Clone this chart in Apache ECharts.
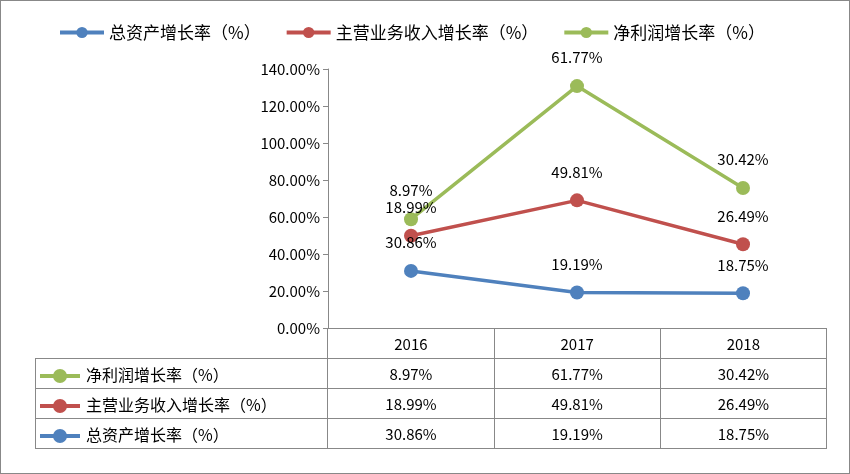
<!DOCTYPE html>
<html><head><meta charset="utf-8">
<script src="https://cdn.jsdelivr.net/npm/echarts@6/dist/echarts.min.js"></script>
<style>
body{margin:0;font-family:"Noto Sans CJK SC","Liberation Sans",sans-serif;}
#wrap{position:relative;width:848px;height:472px;border:1px solid #888;background:#fff;}
#chart{position:absolute;left:0;top:0;width:848px;height:472px;}
table{position:absolute;left:34px;top:327px;border-collapse:collapse;font-size:15px;color:#000;table-layout:fixed;width:792px;}
td{border:1px solid #888;height:29px;padding:0;text-align:center;width:166px;}
td.n{width:292px;text-align:left;padding-left:4px;font-size:16px;}
.sym{display:inline-block;position:relative;width:40px;height:14px;vertical-align:middle;margin-right:6px;}
.sym:before{content:"";position:absolute;left:0;right:0;top:5px;height:4px;background:var(--c);}
.sym:after{content:"";position:absolute;left:13px;top:0;width:14px;height:14px;border-radius:7px;background:var(--c);}
</style></head>
<body><div id="wrap"><div id="chart"></div><table id="tbl"></table></div>
<script>
// 数据
var years = ['2016', '2017', '2018'];
var names = ['总资产增长率（%）', '主营业务收入增长率（%）', '净利润增长率（%）'];
var colors = ['#4F81BD', '#C0504D', '#9BBB59'];
var asset = [30.86, 19.19, 18.75];
var revenue = [18.99, 49.81, 26.49];
var profit = [8.97, 61.77, 30.42];
var values = [asset, revenue, profit];

// 表格
var html = '<colgroup><col style="width:292px"><col style="width:166px"><col style="width:166px"><col style="width:166px"></colgroup>';
html += '<tr><td class="n" style="border-top:none;border-left:none"></td>';
for (var i = 0; i < years.length; i++) html += '<td>' + years[i] + '</td>';
html += '</tr>';
for (var k = 2; k >= 0; k--) {
     html += '<tr><td class="n"><span class="sym" style="--c:' + colors[k] + '"></span>' + names[k] + '</td>';
     for (var j = 0; j < years.length; j++) html += '<td>' + values[k][j].toFixed(2) + '%</td>';
     html += '</tr>';
}
document.getElementById('tbl').innerHTML = html;

var chart = echarts.init(document.getElementById('chart'));
var series = [];
for (var s = 0; s < 3; s++) {
     series.push({
          name: names[s],
          type: 'line',
          stack: 'all',
          data: values[s],
          symbol: 'circle',
          symbolSize: 14,
          lineStyle: { width: 3.5, color: colors[s] },
          itemStyle: { color: colors[s] },
          label: {
               show: true, position: 'top', distance: 14, color: '#000', fontSize: 15,
               formatter: function (p) { return p.value.toFixed(2) + '%'; }
          }
     });
}
chart.setOption({
     animation: false,
     textStyle: { fontFamily: 'Noto Sans CJK SC' },
     legend: {
          top: 18, left: 52, itemWidth: 44, itemHeight: 14, itemGap: 24,
          lineStyle: { width: 4 },
          textStyle: { fontSize: 17, color: '#000' },
          data: names
     },
     grid: { left: 327, right: 23, top: 68, bottom: 145 },
     xAxis: {
          type: 'category', data: years, boundaryGap: true,
          axisLabel: { show: false },
          axisLine: { lineStyle: { color: '#888' } },
          axisTick: { show: false }
     },
     yAxis: {
          type: 'value', min: 0, max: 140, interval: 20,
          splitLine: { show: false },
          axisLine: { show: true, lineStyle: { color: '#888' } },
          axisTick: { show: true, lineStyle: { color: '#888' } },
          axisLabel: { color: '#000', fontSize: 15, formatter: function (v) { return v.toFixed(2) + '%'; } }
     },
     series: series
});
</script></body></html>
